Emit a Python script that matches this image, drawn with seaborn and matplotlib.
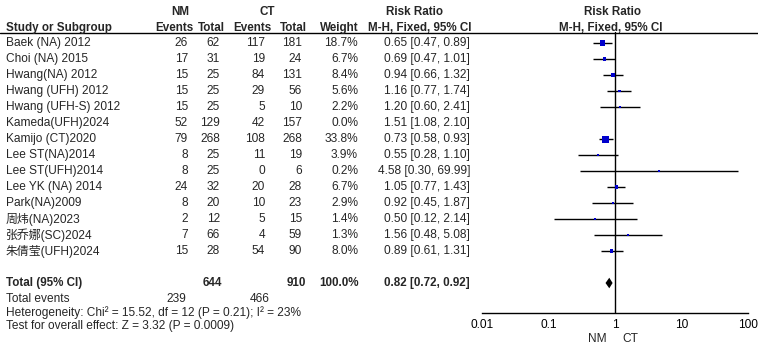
import matplotlib
matplotlib.use("Agg")
import matplotlib.pyplot as plt
from matplotlib.lines import Line2D
from matplotlib.transforms import blended_transform_factory
import seaborn as sns
import numpy as np
import pandas as pd

# data
studies = ["Baek (NA) 2012", "Choi (NA) 2015", "Hwang(NA) 2012", "Hwang (UFH) 2012",
           "Hwang (UFH-S) 2012", "Kameda(UFH)2024", "Kamijo (CT)2020", "Lee ST(NA)2014",
           "Lee ST(UFH)2014", "Lee YK (NA) 2014", "Park(NA)2009", "周炜(NA)2023",
           "张乔娜(SC)2024", "朱倩莹(UFH)2024"]
nm_events = [26, 17, 15, 15, 15, 52, 79, 8, 8, 24, 8, 2, 7, 15]
nm_total = [62, 31, 25, 25, 25, 129, 268, 25, 25, 32, 20, 12, 66, 28]
ct_events = [117, 19, 84, 29, 5, 42, 108, 11, 0, 20, 10, 5, 4, 54]
ct_total = [181, 24, 131, 56, 10, 157, 268, 19, 6, 28, 23, 15, 59, 90]
weight = [18.7, 6.7, 8.4, 5.6, 2.2, 0.0, 33.8, 3.9, 0.2, 6.7, 2.9, 1.4, 1.3, 8.0]
rr = [0.65, 0.69, 0.94, 1.16, 1.20, 1.51, 0.73, 0.55, 4.58, 1.05, 0.92, 0.50, 1.56, 0.89]
ci_low = [0.47, 0.47, 0.66, 0.77, 0.60, 1.08, 0.58, 0.28, 0.30, 0.77, 0.45, 0.12, 0.48, 0.61]
ci_high = [0.89, 1.01, 1.32, 1.74, 2.41, 2.10, 0.93, 1.10, 69.99, 1.43, 1.87, 2.14, 5.08, 1.31]

total_nm, total_ct = 644, 910
total_weight = 100.0
events_nm, events_ct = 239, 466
total_rr, total_low, total_high = 0.82, 0.72, 0.92
heterogeneity = "Heterogeneity: Chi² = 15.52, df = 12 (P = 0.21); I² = 23%"
overall_test = "Test for overall effect: Z = 3.32 (P = 0.0009)"
x_ticks = [0.01, 0.1, 1, 10, 100]
x_ticklabels = ["0.01", "0.1", "1", "10", "100"]

df = pd.DataFrame({"study": studies, "nm_events": nm_events, "nm_total": nm_total,
                   "ct_events": ct_events, "ct_total": ct_total, "weight": weight,
                   "rr": rr, "lo": ci_low, "hi": ci_high})
df["row"] = np.arange(len(df))
total_row = len(df) + 1

sns.set_style("white")
plt.rcParams["font.family"] = ["Liberation Sans", "Noto Sans CJK SC", "DejaVu Sans"]
plt.rcParams["font.size"] = 8.6

W, H = 758, 352
fig = plt.figure(figsize=(W / 100, H / 100), dpi=100)
ax = fig.add_axes([482 / W, 1 - 313 / H, 266 / W, (313 - 32) / H])

# studies with zero weight are not drawn
shown = df[df["weight"] > 0].copy()
shown["area"] = np.maximum(0.75 * shown["weight"], 2.1)

ax.hlines(shown["row"], shown["lo"], shown["hi"], color="black", lw=1)
sns.scatterplot(data=shown, x="rr", y="row", size="area",
                sizes=(shown["area"].min(), shown["area"].max()),
                marker="s", color="#0000CC", edgecolor="none", linewidth=0,
                legend=False, ax=ax, zorder=3)
ax.fill([total_low, total_rr, total_high, total_rr],
        [total_row, total_row - 0.33, total_row, total_row + 0.33],
        color="black", lw=0, zorder=3)
ax.axvline(1, color="black", lw=1)

ax.set_xscale("log")
ax.set_xlim(0.01, 100)
ax.set_ylim(16.875, -0.69)
ax.set_xticks(x_ticks)
ax.set_xticklabels(x_ticklabels)
ax.minorticks_off()
ax.set_yticks([])
ax.set_xlabel("")
ax.set_ylabel("")
for s in ["top", "left", "right"]:
    ax.spines[s].set_visible(False)
ax.spines["bottom"].set_color("black")
ax.spines["bottom"].set_linewidth(1)
ax.tick_params(axis="x", direction="inout", length=7, width=1, pad=1,
               colors="black", labelsize=8.6)
ax.patch.set_alpha(0)

ax.annotate("NM", xy=(1, 0), xycoords=("data", "axes fraction"), xytext=(-8, -26),
            textcoords="offset pixels", ha="right", va="center")
ax.annotate("CT", xy=(1, 0), xycoords=("data", "axes fraction"), xytext=(7, -26),
            textcoords="offset pixels", ha="left", va="center")

# table text, rows aligned with the forest axes
tr = blended_transform_factory(fig.transFigure, ax.transData)


def put(px, row, s, ha="right", bold=False, size=None):
    fig.text(px / W, row, s, transform=tr, ha=ha, va="center",
             fontweight="bold" if bold else "normal", fontsize=size)


left = 6
hdr1, hdr2 = -1.94, -0.94
hs = 8.4
put(180, hdr1, "NM", ha="center", bold=True, size=hs)
put(267, hdr1, "CT", ha="center", bold=True, size=hs)
put(415, hdr1, "Risk Ratio", ha="center", bold=True, size=hs)
put(613, hdr1, "Risk Ratio", ha="center", bold=True, size=hs)
put(left, hdr2, "Study or Subgroup", ha="left", bold=True, size=hs)
put(193, hdr2, "Events", bold=True, size=hs)
put(225, hdr2, "Total", bold=True, size=hs)
put(271, hdr2, "Events", bold=True, size=hs)
put(307, hdr2, "Total", bold=True, size=hs)
put(359, hdr2, "Weight", bold=True, size=hs)
put(471, hdr2, "M-H, Fixed, 95% CI", bold=True, size=hs)
put(611, hdr2, "M-H, Fixed, 95% CI", ha="center", bold=True, size=hs)
fig.add_artist(Line2D([0, 1], [1 - 32.5 / H] * 2, transform=fig.transFigure,
                      color="black", lw=1))

for r in df.itertuples():
    put(left, r.row, r.study, ha="left")
    put(188, r.row, str(r.nm_events))
    put(220, r.row, str(r.nm_total))
    put(265, r.row, str(r.ct_events))
    put(302, r.row, str(r.ct_total))
    put(358, r.row, f"{r.weight:.1f}%")
    put(470, r.row, f"{r.rr:.2f} [{r.lo:.2f}, {r.hi:.2f}]")

put(left, total_row, "Total (95% CI)", ha="left", bold=True, size=hs)
put(222, total_row, str(total_nm), bold=True, size=hs)
put(306, total_row, str(total_ct), bold=True, size=hs)
put(359, total_row, f"{total_weight:.1f}%", bold=True, size=hs)
put(470, total_row, f"{total_rr:.2f} [{total_low:.2f}, {total_high:.2f}]", bold=True, size=hs)
put(left, 16.0, "Total events", ha="left")
put(186, 16.0, str(events_nm))
put(270, 16.0, str(events_ct))
put(left, 16.82, heterogeneity, ha="left")
put(left, 17.7, overall_test, ha="left")

fig.savefig("out.png", dpi=100, facecolor="white")
